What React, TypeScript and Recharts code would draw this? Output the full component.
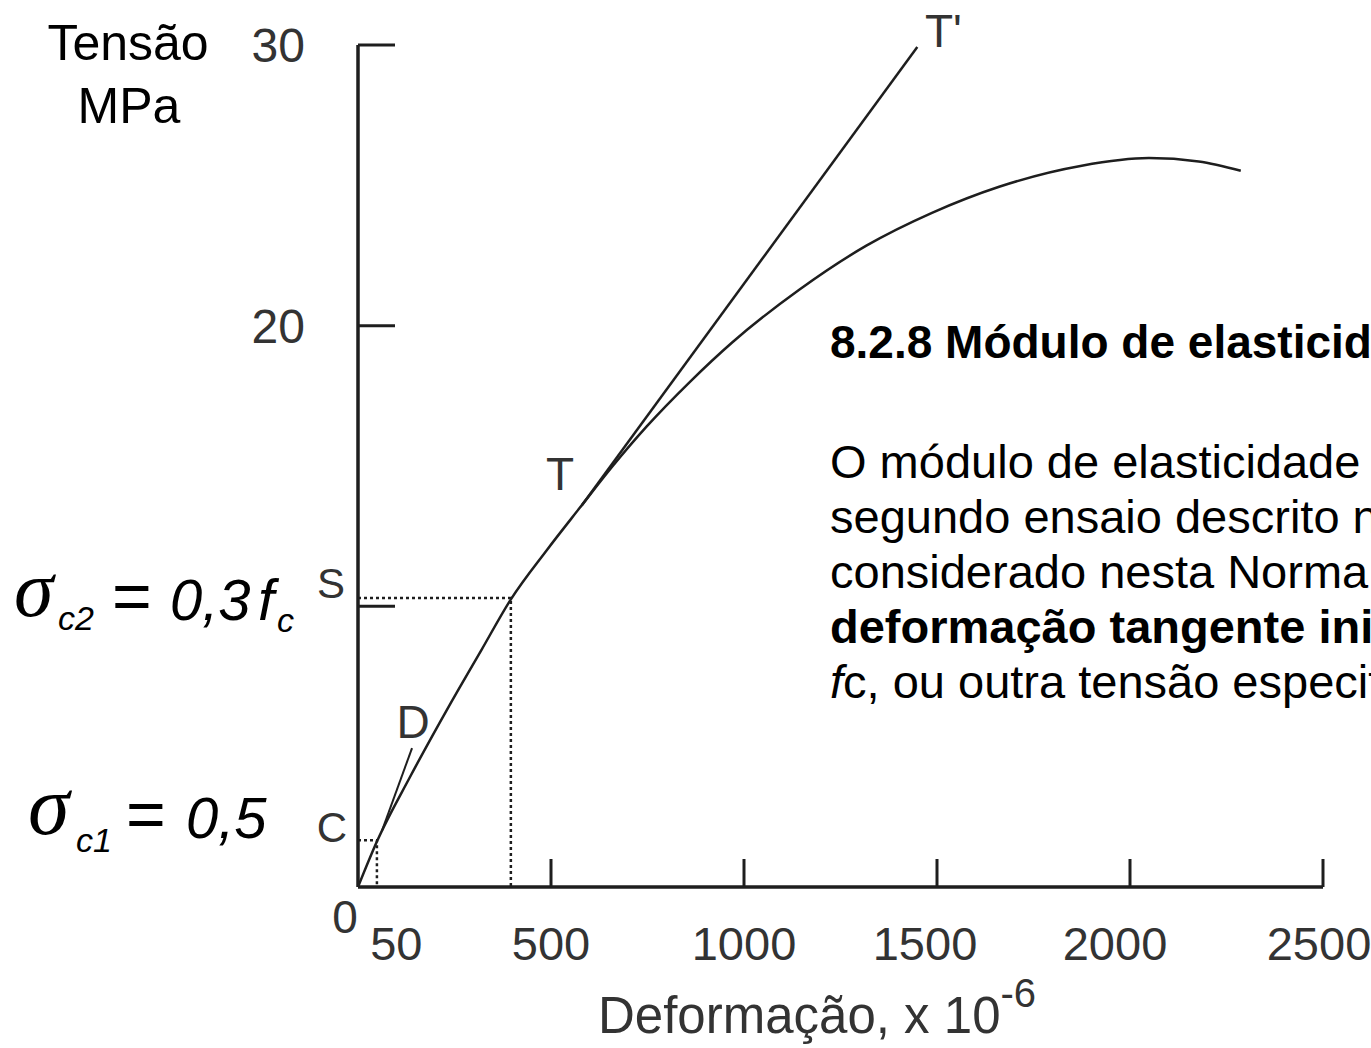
import React from 'react';
import { LineChart, Line, XAxis, YAxis } from 'recharts';

// Stress-strain curve (strain x 10^-6, stress MPa)
const CURVE_STRAIN = [0, 49, 134, 238, 320, 396, 489, 574, 660, 748, 860, 970, 1143, 1317, 1487, 1661, 1875, 2049, 2178, 2287];
const CURVE_STRESS = [0, 1.62, 3.9, 6.5, 8.45, 10.25, 12.0, 13.5, 15.0, 16.41, 18.0, 19.41, 21.28, 22.85, 24.02, 24.95, 25.7, 25.97, 25.85, 25.52];

// Tangent T - T'
const TANGENT_STRAIN = [580, 1449];
const TANGENT_STRESS = [13.6, 29.93];

// Initial tangent near D
const D_STRAIN = [62, 140];
const D_STRESS = [2.0, 4.95];

// Dotted guides through S and C
const S_STRAIN = [0, 396, 396];
const S_STRESS = [10.3, 10.3, 0];
const C_STRAIN = [0, 49, 49];
const C_STRESS = [1.67, 1.67, 0];

const X_TICKS = [50, 500, 1000, 1500, 2000, 2500];
const Y_TICKS = [10, 20, 30];
const Y_LABELS: Record<number, string> = { 10: '', 20: '20', 30: '30' };

const toRows = (xs: number[], ys: number[]) => xs.map((x, i) => ({ x, y: ys[i] }));

const curveData = toRows(CURVE_STRAIN, CURVE_STRESS);
const tangentData = toRows(TANGENT_STRAIN, TANGENT_STRESS);
const dData = toRows(D_STRAIN, D_STRESS);
const sData = toRows(S_STRAIN, S_STRESS);
const cData = toRows(C_STRAIN, C_STRESS);

const INK = '#1e1e1e';
const LABEL = '#333';
const FONT = '"Liberation Sans", Arial, sans-serif';
const SERIF = '"Liberation Serif", "DejaVu Serif", serif';

// small nudges so labels sit where the original figure had them
const X_LABEL_SHIFT: Record<number, number> = { 50: 19, 1500: -12, 2000: -15, 2500: -4 };

const XTick = (props: any) => {
  const { x, y, payload } = props;
  const v = payload.value;
  return (
    <g>
      {v !== 50 && <line x1={x} x2={x} y1={y} y2={y - 28} stroke={INK} strokeWidth={3} />}
      <text x={x + (X_LABEL_SHIFT[v] || 0)} y={y + 73} textAnchor="middle" fontSize={47} fill={LABEL} fontFamily={FONT}>
        {v}
      </text>
    </g>
  );
};

const YTick = (props: any) => {
  const { x, y, payload } = props;
  const v = payload.value;
  return (
    <g>
      <line x1={x} x2={x + 37} y1={y} y2={y} stroke={INK} strokeWidth={3} />
      <text x={x - 53} y={y + 17} textAnchor="end" fontSize={48} fill={LABEL} fontFamily={FONT}>
        {Y_LABELS[v]}
      </text>
    </g>
  );
};

export default function App() {
  return (
    <div style={{ position: 'fixed', left: 0, top: 0, width: 1371, height: 1048, overflow: 'hidden', background: '#fff' }}>
      <LineChart width={1371} height={1048} margin={{ top: 45, right: 48, bottom: 101, left: 278 }}>
        <XAxis
          type="number"
          dataKey="x"
          domain={[0, 2500]}
          allowDataOverflow
          ticks={X_TICKS}
          interval={0}
          tickSize={0}
          tickMargin={0}
          height={60}
          tick={<XTick />}
          axisLine={{ stroke: INK, strokeWidth: 3.5 }}
        />
        <YAxis
          type="number"
          dataKey="y"
          domain={[0, 30]}
          allowDataOverflow
          ticks={Y_TICKS}
          interval={0}
          tickSize={0}
          tickMargin={0}
          width={80}
          tick={<YTick />}
          axisLine={{ stroke: INK, strokeWidth: 3.5 }}
        />
        <Line data={sData} dataKey="y" type="linear" stroke={INK} strokeWidth={2.5} strokeDasharray="3 3" dot={false} isAnimationActive={false} />
        <Line data={cData} dataKey="y" type="linear" stroke={INK} strokeWidth={2.5} strokeDasharray="3 3" dot={false} isAnimationActive={false} />
        <Line data={dData} dataKey="y" type="linear" stroke={INK} strokeWidth={2} dot={false} isAnimationActive={false} />
        <Line data={tangentData} dataKey="y" type="linear" stroke={INK} strokeWidth={2.5} dot={false} isAnimationActive={false} />
        <Line data={curveData} dataKey="y" type="monotone" stroke={INK} strokeWidth={2.5} dot={false} isAnimationActive={false} />
      </LineChart>

      <svg width={1371} height={1048} style={{ position: 'absolute', left: 0, top: 0, pointerEvents: 'none' }}>
        <g fontFamily={FONT}>
          {/* axis titles */}
          <text x={128} y={60} fontSize={50} textAnchor="middle" fill="#000">Tensão</text>
          <text x={129} y={123} fontSize={50} textAnchor="middle" fill="#000">MPa</text>
          <text x={598} y={1033} fontSize={51} fill={LABEL}>
            Deformação, x 10
            <tspan dy={-26} fontSize={40}>-6</tspan>
          </text>

          {/* point labels */}
          <text x={345} y={933} fontSize={46} textAnchor="middle" fill={LABEL}>0</text>
          <text x={331} y={598} fontSize={42} textAnchor="middle" fill={LABEL}>S</text>
          <text x={332} y={842} fontSize={42} textAnchor="middle" fill={LABEL}>C</text>
          <text x={413} y={738} fontSize={46} textAnchor="middle" fill={LABEL}>D</text>
          <text x={560} y={490} fontSize={46} textAnchor="middle" fill={LABEL}>T</text>
          <text x={925} y={47} fontSize={46} fill={LABEL}>T'</text>

          {/* stress levels */}
          <text x={14} y={616} fontSize={80} fontStyle="italic" fontFamily={SERIF}>σ</text>
          <text x={58} y={630} fontSize={34} fontStyle="italic">c2</text>
          <text x={112} y={620} fontSize={68}>=</text>
          <text x={170} y={620} fontSize={58} fontStyle="italic">0,3</text>
          <text x={258} y={620} fontSize={58} fontStyle="italic">f</text>
          <text x={277} y={632} fontSize={34} fontStyle="italic">c</text>

          <text x={28} y={834} fontSize={84} fontStyle="italic" fontFamily={SERIF}>σ</text>
          <text x={76} y={852} fontSize={34} fontStyle="italic">c1</text>
          <text x={126} y={838} fontSize={68}>=</text>
          <text x={186} y={838} fontSize={58} fontStyle="italic">0,5</text>

          {/* NBR 6118 excerpt, cut by the right edge as in the slide */}
          <text x={830} y={358} fontSize={46} fontWeight="bold" fill="#000">8.2.8 Módulo de elasticidade</text>
          <text x={830} y={478} fontSize={47} fill="#000">O módulo de elasticidade deve</text>
          <text x={830} y={533} fontSize={47} fill="#000">segundo ensaio descrito na</text>
          <text x={830} y={588} fontSize={47} fill="#000">considerado nesta Norma o</text>
          <text x={830} y={643} fontSize={47} fontWeight="bold" fill="#000">deformação tangente inicial</text>
          <text x={830} y={698} fontSize={47} fill="#000">
            <tspan fontStyle="italic">f</tspan>c, ou outra tensão especificada
          </text>
        </g>
      </svg>
    </div>
  );
}
